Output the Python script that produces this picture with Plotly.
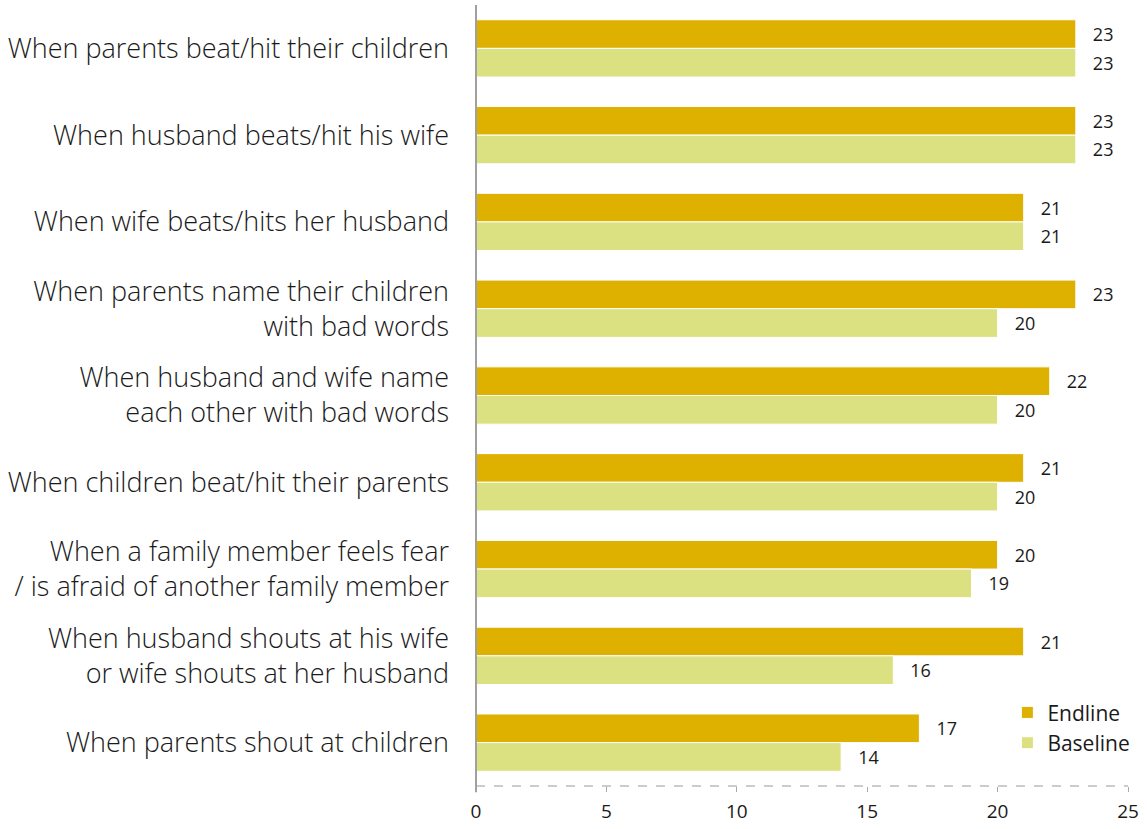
import plotly.graph_objects as go

categories = [
    "When parents beat/hit their children",
    "When husband beats/hit his wife",
    "When wife beats/hits her husband",
    "When parents name their children<br>with bad words",
    "When husband and wife name<br>each other with bad words",
    "When children beat/hit their parents",
    "When a family member feels fear<br>/ is afraid of another family member",
    "When husband shouts at his wife<br>or wife shouts at her husband",
    "When parents shout at children",
]
endline = [23, 23, 21, 23, 22, 21, 20, 21, 17]
baseline = [23, 23, 21, 20, 20, 20, 19, 16, 14]
x_ticks = [0, 5, 10, 15, 20, 25]

FONT = "Open Sans"
TEXT = "#1a1a1a"
PAD = "\u00a0\u00a0\u00a0"

fig = go.Figure()
for name, vals, color in [("Endline", endline, "#DEB000"), ("Baseline", baseline, "#DBE081")]:
    fig.add_trace(go.Bar(
        y=categories, x=vals, name=name, orientation="h",
        marker=dict(color=color, line=dict(color="white", width=1)),
        text=[PAD + str(v) for v in vals], textposition="outside",
        textfont=dict(family=FONT, size=18, color=TEXT),
        cliponaxis=False,
    ))

fig.update_layout(
    width=1147, height=829,
    margin=dict(l=476, r=19, t=5, b=43),
    paper_bgcolor="white", plot_bgcolor="white",
    barmode="group", bargap=0.34, bargroupgap=0.0,
    font=dict(family=FONT, color=TEXT),
    showlegend=True,
    legend=dict(x=0.815, y=0.12, xanchor="left", yanchor="top",
                font=dict(family=FONT, size=21, color=TEXT, weight=500),
                itemwidth=30, tracegroupgap=0, bgcolor="rgba(0,0,0,0)"),
)
fig.update_xaxes(
    range=[0, 25], tickvals=x_ticks, ticks="outside", ticklen=5, tickcolor="#aaaaaa",
    showgrid=False, zeroline=False, showline=False,
    tickfont=dict(family=FONT, size=19, color=TEXT), ticklabelstandoff=3,
)
fig.update_yaxes(
    autorange="reversed", showgrid=False, zeroline=False, showline=False, ticks="",
    tickfont=dict(family=FONT, size=27, color=TEXT, weight=300), ticklabelstandoff=26,
)
# dashed baseline along the value axis and solid category axis line
fig.add_shape(type="line", xref="paper", yref="paper", x0=0, x1=1, y0=0, y1=0,
              line=dict(color="#999999", width=1, dash="dash"))
fig.add_shape(type="line", xref="paper", yref="paper", x0=0, x1=0, y0=-0.008, y1=1,
              line=dict(color="#a0a0a0", width=2))

fig.write_html("out.html")
